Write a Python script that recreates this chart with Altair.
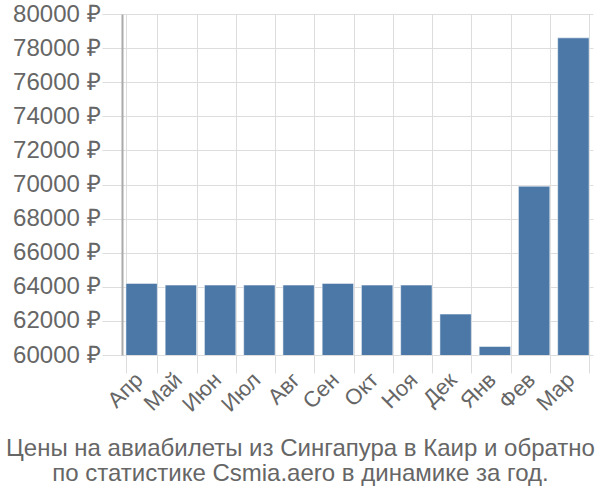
import altair as alt
import pandas as pd

months = ["Апр", "Май", "Июн", "Июл", "Авг", "Сен", "Окт", "Ноя", "Дек", "Янв", "Фев", "Мар"]
prices = [64200, 64100, 64100, 64100, 64100, 64200, 64100, 64100, 62400, 60500, 69900, 78600]
y_ticks = [60000, 62000, 64000, 66000, 68000, 70000, 72000, 74000, 76000, 78000, 80000]
title_lines = ["Цены на авиабилеты из Сингапура в Каир и обратно",
               "по статистике Csmia.aero в динамике за год."]

df = pd.DataFrame({"month": months, "price": prices})

chart = alt.Chart(df).mark_bar(color="#4c78a8", stroke="#ffffff", strokeWidth=0.5, clip=True).encode(
    x=alt.X("month:N", sort=months, title=None,
            scale=alt.Scale(paddingInner=0.2, paddingOuter=0.1),
            axis=alt.Axis(labelAngle=-45, labelFontSize=22, labelColor="#666666",
                          labelFont="Liberation Sans", grid=True, bandPosition=0,
                          gridColor="#dddddd", tickSize=18, tickColor="#dddddd",
                          tickBand="extent", domain=False, labelPadding=3,
                          labelOffset=-3, labelAlign="right", labelBaseline="middle")),
    y=alt.Y("price:Q", title=None,
            scale=alt.Scale(domain=[60000, 80000], zero=False, nice=False),
            axis=alt.Axis(values=y_ticks, labelExpr="datum.value + ' ₽'",
                          labelFontSize=24, labelColor="#666666", labelFont="Liberation Sans",
                          gridColor="#dddddd", tickSize=20, tickColor="#dddddd",
                          domainColor="#aaaaaa", domainWidth=2, labelPadding=2)),
).properties(
    width=471, height=341,
    title=alt.TitleParams(text=title_lines, orient="bottom", anchor="middle",
                          fontSize=24, font="Liberation Sans", fontWeight="normal",
                          color="#666666", dx=-57, offset=22, lineHeight=25),
    padding={"left": 122, "top": 14, "right": 7, "bottom": 145},
    autosize=alt.AutoSizeParams(type="none"),
).configure_view(stroke=None)

chart.save("out.html", embed_options={"renderer": "svg", "actions": False})
